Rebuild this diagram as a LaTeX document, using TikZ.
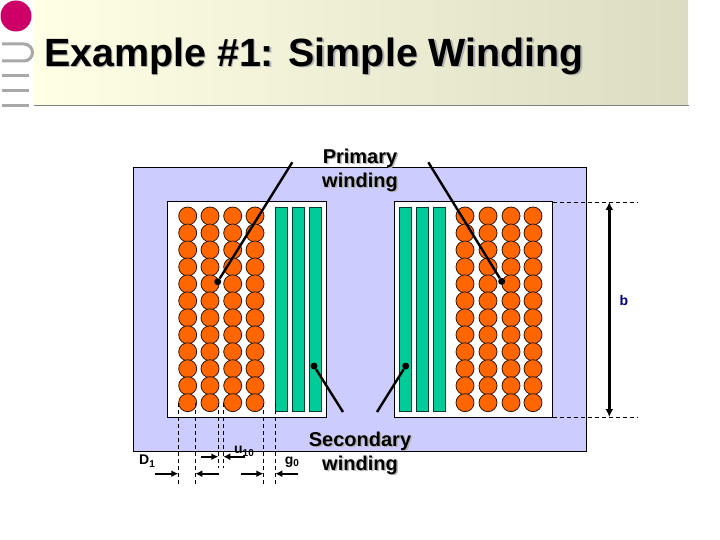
\documentclass[tikz,border=0pt]{standalone}
\usepackage{fontspec}
\setmainfont{Liberation Sans}
\usetikzlibrary{arrows.meta}
\definecolor{corecolor}{HTML}{CCCCFF}
\definecolor{coilcolor}{HTML}{FF6600}
\definecolor{barcolor}{HTML}{00CC99}
\definecolor{bandleft}{HTML}{FFFFE6}
\definecolor{bandright}{HTML}{DCDCC2}
\definecolor{logogray}{HTML}{A8A8A8}
\definecolor{logored}{HTML}{CC0066}
\newcommand{\shadowed}[1]{\rlap{\kern1.5pt\raisebox{-1.5pt}{\color{black!30}#1}}#1}
\tikzset{
  coil/.style={circle,draw=black!80!coilcolor,fill=coilcolor,line width=0.8pt,minimum size=18pt,inner sep=0pt},
  bar/.style={draw=black!70!barcolor,fill=barcolor,line width=0.8pt},
  dot/.style={circle,fill=black,minimum size=7pt,inner sep=0pt},
  lead/.style={line width=2.4pt},
  guide/.style={line width=0.8pt,dash pattern=on 4pt off 3pt},
  dim/.style={line width=2pt,-{Latex[length=7pt,width=7pt]}},
  logobar/.style={logogray,line width=3pt},
  bigtext/.style={font=\bfseries\fontsize{20}{24}\selectfont,align=center,inner sep=0pt},
  smalltext/.style={font=\bfseries\fontsize{14}{16}\selectfont,inner sep=0pt}
}
\begin{document}
\begin{tikzpicture}[x=1pt,y=-1pt]
  \useasboundingbox (0,0) rectangle (720,540);
  % header
  \shade[left color=bandleft,right color=bandright] (34,0) rectangle (688,105);
  \draw[black!50,line width=1.8pt] (34,105.5) -- (689,105.5);
  \fill[logored] (16,16) circle (15.5);
  \draw[logobar] (2,44) -- (24,44) arc (-90:90:8.5) -- (2,61);
  \draw[logobar] (2,75.5) -- (29,75.5);
  \draw[logobar] (2,90.5) -- (29,90.5);
  \draw[logobar] (2,105.5) -- (29,105.5);
  \node[anchor=west,inner sep=0pt,font=\bfseries\fontsize{39.4}{44}\selectfont] (title) at (44,57) {\shadowed{Example \#1: Simple Winding}};
  % core and windows
  \draw[fill=corecolor,line width=1pt] (133.5,168) rectangle (586.5,451);
  \draw[fill=white,line width=1pt] (167.5,202) rectangle (326.5,417);
  \draw[fill=white,line width=1pt] (394,202) rectangle (552.5,417);
  % coils
  \foreach \x [count=\i] in {187.7,210,232.7,255}
    \foreach \j in {0,...,11}
      \node[coil] (lc\i-\j) at (\x,216+16.97*\j) {};
  \foreach \x [count=\i] in {465,488,511,533}
    \foreach \j in {0,...,11}
      \node[coil] (rc\i-\j) at (\x,216+16.97*\j) {};
  % secondary bars
  \foreach \x in {275.7,292.5,309.5,399.5,416.5,433.5}
    \draw[bar] (\x,207.5) rectangle ++(11.5,204);
  % leaders
  \node[bigtext] (primary) at (360,171) {\shadowed{Primary}\\\shadowed{winding}};
  \node[bigtext] (secondary) at (360,454) {\shadowed{Secondary}\\\shadowed{winding}};
  \coordinate (pl) at (292.3,162.3);
  \coordinate (pr) at (428.3,162.3);
  \coordinate (sl) at (343,412);
  \coordinate (sr) at (377,412);
  \node[dot] (dpl) at (217.7,281.7) {};
  \node[dot] (dpr) at (501.7,281.3) {};
  \node[dot] (dsl) at (314,366) {};
  \node[dot] (dsr) at (405.7,366) {};
  \draw[lead] (pl) to (dpl);
  \draw[lead] (pr) to (dpr);
  \draw[lead] (sl) to (dsl);
  \draw[lead] (sr) to (dsr);
  % height b
  \coordinate (bt0) at (552.5,202);
  \coordinate (bt1) at (638,202);
  \coordinate (bb0) at (552.5,417);
  \coordinate (bb1) at (638,417);
  \coordinate (bt) at (609.3,202);
  \coordinate (bb) at (609.3,417);
  \draw[guide] (bt0) -- (bt1);
  \draw[guide] (bb0) -- (bb1);
  \draw[line width=2.4pt,{Latex[length=8pt,width=8pt]}-{Latex[length=8pt,width=8pt]}] (bt) -- (bb);
  \node[smalltext,text=blue!50!black] (b) at (624,300.5) {b};
  % guides below the window
  \foreach \x/\e [count=\i] in {178.3/485,195.3/485,218.3/468,223.3/468,263.3/485,275.3/485} {
    \coordinate (gt\i) at (\x,403);
    \coordinate (gb\i) at (\x,\e);
    \draw[guide] (gt\i) -- (gb\i);
  }
  % dimension arrows
  \coordinate (d1a) at (155,473.7);
  \coordinate (d1b) at (178.3,473.7);
  \coordinate (d1c) at (219,473.7);
  \coordinate (d1d) at (195.3,473.7);
  \coordinate (ua) at (201,456.7);
  \coordinate (ub) at (218.3,456.7);
  \coordinate (uc) at (245,456.7);
  \coordinate (ud) at (223.3,456.7);
  \coordinate (ga) at (241,473.7);
  \coordinate (gb) at (263.3,473.7);
  \coordinate (gc) at (297.7,473.7);
  \coordinate (gd) at (275.3,473.7);
  \draw[dim] (d1a) -- (d1b);
  \draw[dim] (d1c) -- (d1d);
  \draw[dim] (ua) -- (ub);
  \draw[dim] (uc) -- (ud);
  \draw[dim] (ga) -- (gb);
  \draw[dim] (gc) -- (gd);
  \node[smalltext] (d1) at (147,461) {D\raisebox{-3pt}{\fontsize{10}{12}\selectfont 1}};
  \node[smalltext] (u10) at (244,451) {u\raisebox{-3pt}{\fontsize{10}{12}\selectfont 10}};
  \node[smalltext] (g0) at (292,462) {g\raisebox{-2pt}{\fontsize{10}{12}\selectfont 0}};
\end{tikzpicture}
\end{document}
